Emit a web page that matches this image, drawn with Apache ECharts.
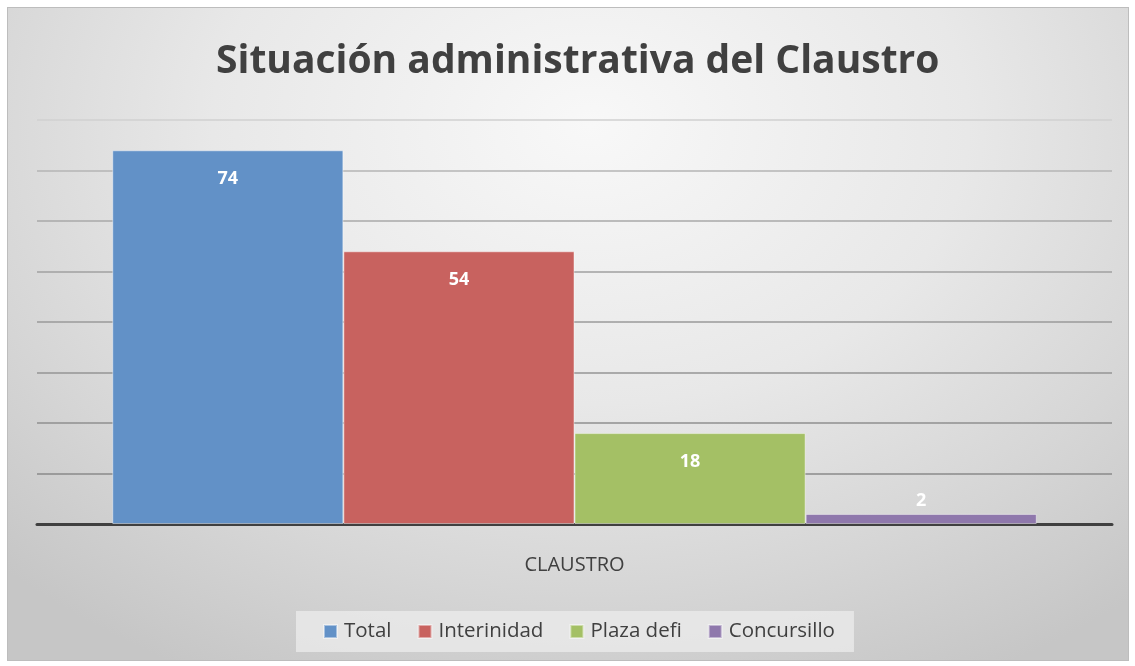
<!DOCTYPE html>
<html>
<head>
<meta charset="utf-8">
<script src="https://cdn.jsdelivr.net/npm/echarts@6/dist/echarts.min.js"></script>
<style>
  html, body { margin: 0; padding: 0; background: #fff; }
  #frame {
    position: absolute; left: 7px; top: 7px; width: 1120px; height: 652px;
    border: 1px solid #bdbdbd;
    background: radial-gradient(ellipse 75% 95% at 52% 18%, #f8f8f8 0%, #e8e8e8 45%, #d6d6d6 75%, #c6c6c6 100%);
  }
  #main { position: absolute; left: 0; top: 0; width: 1135px; height: 666px; }
</style>
</head>
<body>
<div id="frame"></div>
<div id="main"></div>
<script>
// datos del gráfico
const categorias = ['CLAUSTRO'];
const seriesNombres = ['Total', 'Interinidad', 'Plaza defi', 'Concursillo'];
const valores = [74, 54, 18, 2];
const colores = ['#6291c7', '#c8625f', '#a4c065', '#8f78ac'];

let myChart = echarts.init(document.getElementById('main'));

let series = seriesNombres.map(function (nombre, i) {
  return {
    name: nombre,
    type: 'bar',
    barGap: '0%',
    barCategoryGap: '14%',
    itemStyle: { color: colores[i], borderColor: 'rgba(255,255,255,0.45)', borderWidth: 1 },
    label: {
      show: true,
      // barra muy baja: etiqueta encima
      position: valores[i] < 5 ? 'top' : 'insideTop',
      distance: valores[i] < 5 ? 4 : 20,
      color: '#fff',
      fontWeight: 'bold',
      fontSize: 18,
      fontFamily: 'Open Sans'
    },
    data: [valores[i]]
  };
});

let option = {
  animation: false,
  title: {
    text: 'Situación administrativa del Claustro',
    left: 211,
    top: 37,
    textStyle: { fontSize: 39, fontWeight: 'bold', color: '#404040', fontFamily: 'Open Sans' }
  },
  grid: { left: 37, right: 23, top: 120, bottom: 142 },
  legend: {
    bottom: 14,
    left: 296,
    itemWidth: 13,
    itemHeight: 13,
    itemGap: 26,
    icon: 'rect',
    padding: [10, 19, 10, 27],
    backgroundColor: 'rgba(236,236,236,0.75)',
    textStyle: { fontSize: 20.5, color: '#404040', fontFamily: 'Open Sans', padding: [0, 0, 0, 2] },
    data: seriesNombres
  },
  xAxis: {
    type: 'category',
    data: categorias,
    axisLine: { lineStyle: { color: '#404040', width: 3 } },
    axisTick: { show: false },
    axisLabel: { fontSize: 20, color: '#404040', margin: 31, fontFamily: 'Open Sans' }
  },
  yAxis: {
    type: 'value',
    min: 0,
    max: 80,
    interval: 10,
    axisLabel: { show: false },
    axisLine: { show: false },
    axisTick: { show: false },
    splitLine: {
      lineStyle: {
        width: 1.5,
        color: ['#8a8a8a', '#8a8a8a', '#8f8f8f', '#959595', '#9a9a9a', '#a0a0a0', '#a8a8a8', '#b4b4b4', '#d0d0d0']
      }
    }
  },
  series: series
};

option && myChart.setOption(option);
</script>
</body>
</html>
